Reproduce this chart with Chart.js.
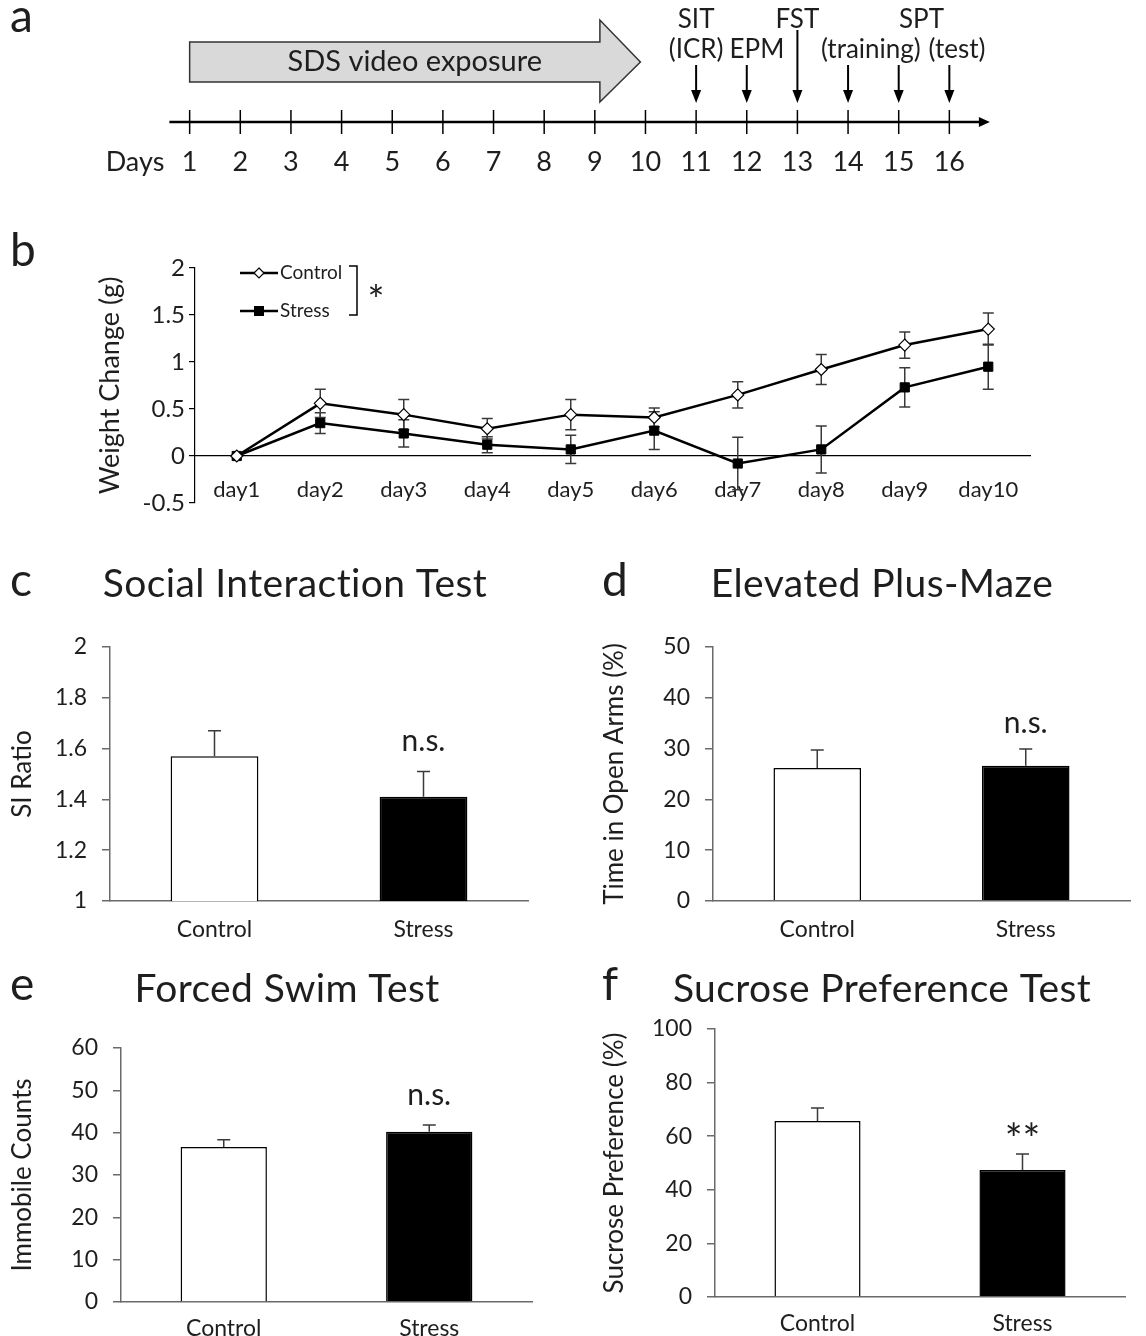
<!DOCTYPE html>
<html>
<head>
<meta charset="utf-8">
<script src="https://cdn.jsdelivr.net/npm/chart.js@4.4.0/dist/chart.umd.min.js"></script>
<style>
  body { margin: 0; background: #fff; width: 1146px; height: 1336px; position: relative; overflow: hidden; }
  canvas { position: absolute; }
</style>
</head>
<body>
<canvas id="cA" width="1146" height="190" style="left:0;top:0"></canvas>
<canvas id="cB" width="1146" height="310" style="left:0;top:220px"></canvas>
<canvas id="cC" width="590" height="395" style="left:0;top:555px"></canvas>
<canvas id="cD" width="556" height="395" style="left:590px;top:555px"></canvas>
<canvas id="cE" width="590" height="376" style="left:0;top:960px"></canvas>
<canvas id="cF" width="556" height="376" style="left:590px;top:960px"></canvas>
<script>
const FONT = 'Lato, "Open Sans", sans-serif';
const INK = '#1e1e1e';
const AXIS = '#6a6a6a';

// panel a - timeline
const dayLabels = ['Days', '1', '2', '3', '4', '5', '6', '7', '8', '9', '10', '11', '12', '13', '14', '15', '16'];
const exposureStart = 1, exposureHead = 9.1, exposureTip = 9.9;
const testDays = [11, 12, 13, 14, 15, 16];
const testLabels = [
  { at: 11, row: 0, text: 'SIT' }, { at: 11, row: 1, text: '(ICR)' },
  { at: 12.2, row: 1, text: 'EPM' }, { at: 13, row: 0, text: 'FST' },
  { at: 14.45, row: 1, text: '(training)' }, { at: 15.45, row: 0, text: 'SPT' },
  { at: 16.15, row: 1, text: '(test)' }
];

// panel b - weight change
const weightDays = ['day1', 'day2', 'day3', 'day4', 'day5', 'day6', 'day7', 'day8', 'day9', 'day10'];
const controlWeight = [0, 0.56, 0.44, 0.29, 0.44, 0.41, 0.65, 0.92, 1.18, 1.35];
const controlSem = [0, 0.15, 0.16, 0.11, 0.16, 0.10, 0.14, 0.16, 0.14, 0.17];
const stressWeight = [0, 0.35, 0.24, 0.12, 0.07, 0.27, -0.08, 0.07, 0.73, 0.95];
const stressSem = [0, 0.11, 0.145, 0.085, 0.15, 0.20, 0.28, 0.25, 0.21, 0.24];

// panels c-f
const groups = ['Control', 'Stress'];
const siRatio = [1.57, 1.41], siSem = [0.10, 0.10];
const openArms = [26.2, 26.6], openArmsSem = [3.5, 3.3];
const immobile = [36.6, 40.2], immobileSem = [1.7, 1.6];
const sucrose = [65.7, 47.4], sucroseSem = [4.8, 6.0];

const plainNum = v => String(Number(v.toFixed(2)));

function drawErrors(chart, o) {
  const ctx = chart.ctx, y = chart.scales.y;
  ctx.save();
  ctx.strokeStyle = '#3a3a3a';
  ctx.lineWidth = 1.5;
  chart.data.datasets.forEach((ds, di) => {
    const meta = chart.getDatasetMeta(di);
    ds.data.forEach((v, i) => {
      const e = o.sem[di][i];
      if (!e) return;
      const x = meta.data[i].x;
      const top = y.getPixelForValue(v + e);
      const bot = y.getPixelForValue(o.both ? v - e : v);
      ctx.beginPath();
      ctx.moveTo(x, top); ctx.lineTo(x, bot);
      ctx.moveTo(x - o.cap / 2, top); ctx.lineTo(x + o.cap / 2, top);
      if (o.both) { ctx.moveTo(x - o.cap / 2, bot); ctx.lineTo(x + o.cap / 2, bot); }
      ctx.stroke();
    });
  });
  ctx.restore();
}

const errorBars = {
  id: 'errorBars',
  beforeDatasetsDraw(chart, args, o) { if (o.under) drawErrors(chart, o); },
  afterDatasetsDraw(chart, args, o) { if (!o.under) drawErrors(chart, o); }
};

const panelText = {
  id: 'panelText',
  afterDraw(chart, args, o) {
    const ctx = chart.ctx;
    ctx.save();
    ctx.fillStyle = INK;
    ctx.textBaseline = 'alphabetic';
    if (o.letter) {
      ctx.textAlign = 'left';
      ctx.font = `46px ${FONT}`;
      ctx.fillText(o.letter.text, o.letter.x, o.letter.y);
    }
    if (o.title) {
      ctx.textAlign = 'center';
      ctx.font = `39px ${FONT}`;
      ctx.letterSpacing = '0.4px';
      ctx.fillText(o.title.text, o.title.x, o.title.y);
      ctx.letterSpacing = '0px';
    }
    if (o.mark) {
      const i = o.mark.index;
      const meta = chart.getDatasetMeta(0);
      const v = chart.data.datasets[0].data[i] + chart.options.plugins.errorBars.sem[0][i];
      ctx.textAlign = 'center';
      ctx.textBaseline = o.mark.baseline;
      ctx.font = `${o.mark.size}px ${FONT}`;
      ctx.fillText(o.mark.text, meta.data[i].x, chart.scales.y.getPixelForValue(v) - o.mark.gap);
    }
    ctx.restore();
  }
};

// timeline drawn on a hidden linear day scale
const timeline = {
  id: 'timeline',
  afterDraw(chart) {
    const ctx = chart.ctx, X = v => chart.scales.x.getPixelForValue(v);
    ctx.save();
    const x0 = X(exposureStart), xh = X(exposureHead), xt = X(exposureTip);
    ctx.beginPath();
    ctx.moveTo(x0, 42); ctx.lineTo(xh, 42); ctx.lineTo(xh, 20); ctx.lineTo(xt, 62);
    ctx.lineTo(xh, 102); ctx.lineTo(xh, 82); ctx.lineTo(x0, 82); ctx.closePath();
    ctx.fillStyle = '#d9d9d9'; ctx.fill();
    ctx.strokeStyle = '#333'; ctx.lineWidth = 1.5; ctx.stroke();

    ctx.fillStyle = INK;
    ctx.textAlign = 'center'; ctx.textBaseline = 'middle';
    ctx.font = `29px ${FONT}`;
    ctx.fillText('SDS video exposure', (x0 + xh) / 2 + 20, 62);

    // main axis with arrow
    const ax0 = X(0.6), ax1 = X(16.8), ay = 122;
    ctx.strokeStyle = '#000'; ctx.lineWidth = 2.5;
    ctx.beginPath(); ctx.moveTo(ax0, ay); ctx.lineTo(ax1 - 8, ay); ctx.stroke();
    ctx.beginPath(); ctx.moveTo(ax1, ay); ctx.lineTo(ax1 - 11, ay - 5); ctx.lineTo(ax1 - 11, ay + 5); ctx.closePath();
    ctx.fillStyle = '#000'; ctx.fill();
    ctx.lineWidth = 1.5;
    for (let d = 1; d <= 16; d++) {
      ctx.beginPath(); ctx.moveTo(X(d), 110); ctx.lineTo(X(d), 134); ctx.stroke();
    }
    ctx.fillStyle = INK; ctx.font = `27px ${FONT}`;
    dayLabels.forEach((t, i) => ctx.fillText(t, X(i) - (i === 0 ? 4 : 0), 162));

    // test arrows
    testDays.forEach(d => {
      const x = X(d), top = d === 13 ? 30 : 65;
      ctx.strokeStyle = '#000'; ctx.lineWidth = 2;
      ctx.beginPath(); ctx.moveTo(x, top); ctx.lineTo(x, 92); ctx.stroke();
      ctx.beginPath(); ctx.moveTo(x, 103); ctx.lineTo(x - 5, 90); ctx.lineTo(x + 5, 90); ctx.closePath();
      ctx.fillStyle = '#000'; ctx.fill();
    });
    ctx.fillStyle = INK; ctx.font = `26px ${FONT}`;
    testLabels.forEach(l => ctx.fillText(l.text, X(l.at), l.row ? 50 : 20));
    ctx.restore();
  }
};

new Chart(document.getElementById('cA'), {
  type: 'scatter',
  data: { datasets: [{ data: testDays.map(d => ({ x: d, y: 0 })), pointRadius: 0 }] },
  options: {
    responsive: false, animation: false, events: [],
    layout: { padding: { left: 139, right: 146, top: 0, bottom: 0 } },
    plugins: { legend: { display: false }, tooltip: { enabled: false },
      panelText: { letter: { text: 'a', x: 10, y: 32 } } },
    scales: { x: { type: 'linear', min: 0, max: 17, display: false }, y: { min: 0, max: 1, display: false } }
  },
  plugins: [timeline, panelText]
});

// legend + significance bracket for panel b (canvas starts at y=220)
const weightLegend = {
  id: 'weightLegend',
  afterDraw(chart) {
    const ctx = chart.ctx;
    ctx.save();
    const rows = [{ label: 'Control', y: 53, diamond: true }, { label: 'Stress', y: 91, diamond: false }];
    rows.forEach(r => {
      ctx.strokeStyle = '#000'; ctx.lineWidth = 2.5;
      ctx.beginPath(); ctx.moveTo(240, r.y); ctx.lineTo(278, r.y); ctx.stroke();
      ctx.lineWidth = 1.2;
      if (r.diamond) {
        ctx.beginPath(); ctx.moveTo(259, r.y - 5); ctx.lineTo(264, r.y); ctx.lineTo(259, r.y + 5); ctx.lineTo(254, r.y); ctx.closePath();
        ctx.fillStyle = '#fff'; ctx.fill(); ctx.stroke();
      } else {
        ctx.fillStyle = '#000'; ctx.fillRect(254, r.y - 5, 10, 10);
      }
      ctx.fillStyle = INK; ctx.font = `19px ${FONT}`; ctx.textAlign = 'left'; ctx.textBaseline = 'middle';
      ctx.fillText(r.label, 280, r.y);
    });
    ctx.strokeStyle = '#000'; ctx.lineWidth = 1.5;
    ctx.beginPath(); ctx.moveTo(349, 46); ctx.lineTo(357, 46); ctx.lineTo(357, 95); ctx.lineTo(349, 95); ctx.stroke();
    ctx.fillStyle = INK; ctx.font = `40px ${FONT}`; ctx.textAlign = 'center'; ctx.textBaseline = 'alphabetic';
    ctx.fillText('*', 376, 95);
    ctx.restore();
  }
};

new Chart(document.getElementById('cB'), {
  type: 'line',
  data: {
    labels: weightDays,
    datasets: [
      { data: controlWeight, borderColor: '#000', borderWidth: 2.5, pointStyle: 'rectRot', pointRadius: 6,
        pointBackgroundColor: '#fff', pointBorderColor: '#000', pointBorderWidth: 1.2, tension: 0 },
      { data: stressWeight, borderColor: '#000', borderWidth: 2.5, pointStyle: 'rect', pointRadius: 6.5,
        pointBackgroundColor: '#000', pointBorderColor: '#000', pointBorderWidth: 1, tension: 0 }
    ]
  },
  options: {
    responsive: false, animation: false, events: [],
    layout: { padding: { left: 0, right: 116, top: 48, bottom: 27 } },
    plugins: {
      legend: { display: false }, tooltip: { enabled: false },
      errorBars: { sem: [controlSem, stressSem], both: true, cap: 11, under: true },
      panelText: { letter: { text: 'b', x: 10, y: 46 } }
    },
    scales: {
      x: {
        position: { y: 0 }, offset: true,
        grid: { display: false },
        border: { color: '#000', width: 1.2 },
        ticks: { color: INK, font: { family: FONT, size: 22 }, padding: 13 }
      },
      y: {
        min: -0.5, max: 2,
        ticks: { stepSize: 0.5, color: INK, font: { family: FONT, size: 24 }, padding: 4, callback: plainNum },
        grid: { drawOnChartArea: false, tickLength: 6, color: '#000', lineWidth: 1.2 },
        border: { color: '#000', width: 1.2 },
        title: { display: true, text: 'Weight Change (g)', color: INK, font: { family: FONT, size: 27 }, padding: { top: 94, bottom: 0 } },
        afterFit: s => { s.width = 195; }
      }
    }
  },
  plugins: [errorBars, weightLegend, panelText]
});

function barPanel(id, o) {
  return new Chart(document.getElementById(id), {
    type: 'bar',
    data: {
      labels: groups,
      datasets: [{ data: o.values, backgroundColor: ['#ffffff', '#000000'], borderColor: '#000',
        borderWidth: 1.5, barPercentage: 0.42, categoryPercentage: 1 }]
    },
    options: {
      responsive: false, animation: false, events: [],
      layout: { padding: o.padding },
      plugins: {
        legend: { display: false }, tooltip: { enabled: false },
        errorBars: { sem: [o.sem], both: false, cap: 13, under: false },
        panelText: { letter: o.letter, title: o.title, mark: o.mark }
      },
      scales: {
        x: {
          grid: { display: false },
          border: { color: AXIS, width: 1.5 },
          ticks: { color: INK, font: { family: FONT, size: 23 }, padding: o.xpad },
          afterFit: s => { s.height = o.xh; }
        },
        y: {
          min: o.min, max: o.max,
          ticks: { stepSize: o.step, color: INK, font: { family: FONT, size: 23 }, padding: 15, callback: plainNum },
          grid: { drawOnChartArea: false, tickLength: 8, color: AXIS, lineWidth: 1.5 },
          border: { color: AXIS, width: 1.5 },
          title: { display: true, text: o.ytitle, color: INK, font: { family: FONT, size: 26 }, padding: { top: o.tpad, bottom: 0 } },
          afterFit: s => { s.width = o.yw; }
        }
      }
    },
    plugins: [errorBars, panelText]
  });
}

barPanel('cC', {
  values: siRatio, sem: siSem, min: 1, max: 2, step: 0.2, ytitle: 'SI Ratio',
  yw: 110, tpad: 7, xh: 49, xpad: 7, padding: { left: 0, right: 62, top: 92, bottom: 0 },
  letter: { text: 'c', x: 10, y: 41 }, title: { text: 'Social Interaction Test', x: 295, y: 42 },
  mark: { text: 'n.s.', index: 1, gap: 30, size: 30, baseline: 'middle' }
});
barPanel('cD', {
  values: openArms, sem: openArmsSem, min: 0, max: 50, step: 10, ytitle: 'Time in Open Arms (%)',
  yw: 123, tpad: 9, xh: 49, xpad: 7, padding: { left: 0, right: 16, top: 92, bottom: 0 },
  letter: { text: 'd', x: 12, y: 41 }, title: { text: 'Elevated Plus-Maze', x: 292, y: 42 },
  mark: { text: 'n.s.', index: 1, gap: 26, size: 30, baseline: 'middle' }
});
barPanel('cE', {
  values: immobile, sem: immobileSem, min: 0, max: 60, step: 10, ytitle: 'Immobile Counts',
  yw: 121, tpad: 7, xh: 34, xpad: 5, padding: { left: 0, right: 58, top: 88, bottom: 0 },
  letter: { text: 'e', x: 10, y: 40 }, title: { text: 'Forced Swim Test', x: 287, y: 42 },
  mark: { text: 'n.s.', index: 1, gap: 30, size: 30, baseline: 'middle' }
});
barPanel('cF', {
  values: sucrose, sem: sucroseSem, min: 0, max: 100, step: 20, ytitle: 'Sucrose Preference (%)',
  yw: 125, tpad: 9, xh: 39, xpad: 5, padding: { left: 0, right: 21, top: 69, bottom: 0 },
  letter: { text: 'f', x: 12, y: 40 }, title: { text: 'Sucrose Preference Test', x: 292, y: 42 },
  mark: { text: '**', index: 1, gap: 0, size: 42, baseline: 'alphabetic' }
});
</script>
</body>
</html>
